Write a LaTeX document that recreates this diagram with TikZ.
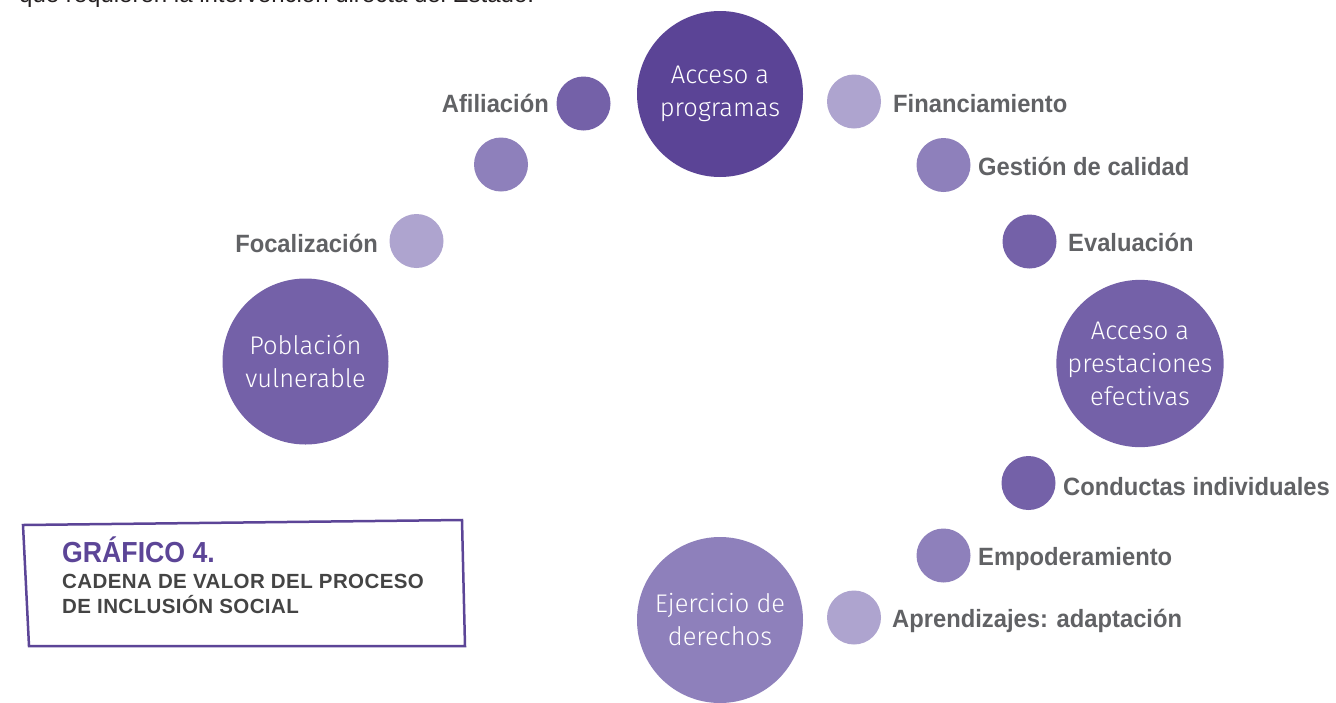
\documentclass[tikz,border=0pt]{standalone}
\usepackage{fontspec}
\setmainfont{Liberation Sans}
\newfontfamily\lblfont[FakeStretch=0.95]{Liberation Sans}
\newfontfamily\ttlfont[FakeStretch=0.92]{Liberation Sans}
\newfontfamily\subfont[LetterSpace=2]{Liberation Sans}
\newfontfamily\circfont{Fira Sans Light}
\definecolor{cdark}{HTML}{5B4496}
\definecolor{cmidtwo}{HTML}{7461A8}
\definecolor{cmid}{HTML}{8E80BB}
\definecolor{clight}{HTML}{AEA4CF}
\definecolor{lblgray}{HTML}{616265}
\definecolor{titlepurple}{HTML}{5C4597}
\definecolor{subgray}{HTML}{444444}
\definecolor{bodytext}{HTML}{231F20}
\begin{document}
\begin{tikzpicture}[x=1pt,y=-1pt,
  big/.style={circle, minimum size=166pt, inner sep=0pt, draw=none, align=center, text=white,
    font=\circfont\fontsize{25.5}{33}\selectfont},
  small/.style={circle, minimum size=54pt, inner sep=0pt, draw=none},
  lbl/.style={font=\lblfont\bfseries\fontsize{25}{30}\selectfont, text=lblgray, inner sep=0pt},
  subttl/.style={font=\subfont\bfseries\fontsize{20.5}{25}\selectfont, text=subgray, inner sep=0pt, anchor=base west}]
\useasboundingbox (0,0) rectangle (1336,702);
\fill[white] (0,0) rectangle (1336,702);
\clip (0,0) rectangle (1336,702);

% partially visible running text at top
\node[anchor=base west, inner sep=0pt, text=bodytext, font=\fontsize{24}{28}\selectfont] (toptext) at (19,2.5)
  {que requieren la intervención directa del Estado.};

% big circles
\node[big, fill=cdark]   (prog)  at (720,94)      {Acceso a\\programas};
\node[big, fill=cmidtwo] (pob)   at (305.5,361.5) {Población\\vulnerable};
\node[big, fill=cmidtwo] (prest) at (1140,363.5)  {Acceso a\\prestaciones\\efectivas};
\node[big, fill=cmid]    (ejer)  at (720,620)     {Ejercicio de\\derechos};

% small circles
\node[small, fill=cmidtwo] (afil) at (583.5,103.5) {};
\node[small, fill=cmid]    (unl)  at (501,164.5)   {};
\node[small, fill=clight]  (foc)  at (416.5,241)   {};
\node[small, fill=clight]  (fin)  at (854,101.5)   {};
\node[small, fill=cmid]    (gest) at (943.5,165)   {};
\node[small, fill=cmidtwo] (eval) at (1029.5,241.5){};
\node[small, fill=cmidtwo] (cond) at (1028.5,483)  {};
\node[small, fill=cmid]    (empo) at (943.5,555.5) {};
\node[small, fill=clight]  (apre) at (854,617.5)   {};

% labels
\node[lbl, anchor=base east] (afiltxt) at (549,112)   {Afiliación};
\node[lbl, anchor=base east] (foctxt)  at (378,252)   {Focalización};
\node[lbl, anchor=base west] (fintxt)  at (893,112)   {Financiamiento};
\node[lbl, anchor=base west] (gesttxt) at (978,175)   {Gestión de calidad};
\node[lbl, anchor=base west] (evaltxt) at (1068,251.5){Evaluación};
\node[lbl, anchor=base west] (condtxt) at (1063,495)  {Conductas individuales};
\node[lbl, anchor=base west] (empotxt) at (978,565)   {Empoderamiento};
\node[lbl, anchor=base west] (apretxt) at (892,627)   {Aprendizajes: adaptación};

% title box
\draw[titlepurple, line width=2.5pt, line join=miter] (23,525) -- (462,520) -- (465,646) -- (29,646) -- cycle;
\node[anchor=base west, inner sep=0pt, text=titlepurple, font=\ttlfont\bfseries\fontsize{29}{32}\selectfont] (gtitle) at (62,562) {GRÁFICO 4.};
\node[subttl] (gsubone) at (62,588) {CADENA DE VALOR DEL PROCESO};
\node[subttl] (gsubtwo) at (62,613) {DE INCLUSIÓN SOCIAL};
\end{tikzpicture}
\end{document}
